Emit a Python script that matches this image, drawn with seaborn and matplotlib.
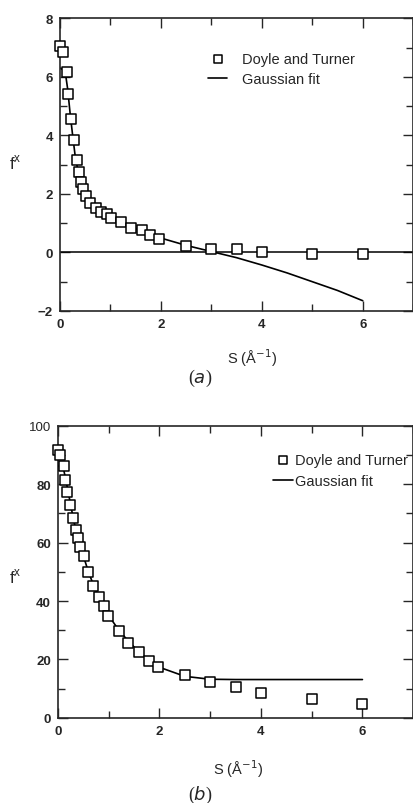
import matplotlib
matplotlib.use('Agg')
import matplotlib.pyplot as plt
import seaborn as sns
import pandas as pd
from matplotlib.ticker import MultipleLocator

# --- data ---
# (a) Doyle and Turner points
s_pts_a = [0.0, 0.05, 0.13, 0.16, 0.21, 0.28, 0.33, 0.37, 0.41, 0.46, 0.52, 0.59,
           0.72, 0.82, 0.93, 1.02, 1.21, 1.40, 1.63, 1.78, 1.97, 2.5, 3.0, 3.5,
           4.0, 5.0, 6.0]
f_pts_a = [7.05, 6.84, 6.18, 5.41, 4.57, 3.83, 3.16, 2.74, 2.39, 2.16, 1.93, 1.68,
           1.53, 1.38, 1.32, 1.16, 1.05, 0.84, 0.75, 0.59, 0.47, 0.23, 0.13, 0.11,
           0.03, -0.06, -0.06]
# (a) Gaussian fit
s_fit_a = [0.0, 0.05, 0.1, 0.15, 0.2, 0.25, 0.3, 0.35, 0.4, 0.5, 0.6, 0.7, 0.8,
           1.0, 1.2, 1.4, 1.6, 1.8, 2.0, 2.5, 3.0, 3.5, 4.0, 4.5, 5.0, 5.5, 6.0]
f_fit_a = [6.3, 6.25, 6.2, 5.6, 4.75, 4.0, 3.3, 2.85, 2.45, 1.98, 1.72, 1.54, 1.4,
           1.18, 1.02, 0.87, 0.74, 0.61, 0.49, 0.24, 0.03, -0.18, -0.43, -0.7,
           -1.0, -1.3, -1.65]

# (b) Doyle and Turner points
s_pts_b = [0.0, 0.05, 0.11, 0.14, 0.18, 0.24, 0.29, 0.36, 0.39, 0.44, 0.52, 0.59,
           0.70, 0.80, 0.90, 0.98, 1.21, 1.39, 1.60, 1.80, 1.97, 2.5, 3.0, 3.5,
           4.0, 5.0, 6.0]
f_pts_b = [91.8, 90.1, 86.3, 81.5, 77.2, 72.9, 68.4, 64.3, 61.6, 58.4, 55.5, 49.8,
           45.3, 41.5, 38.4, 34.8, 29.9, 25.5, 22.5, 19.3, 17.3, 14.5, 12.2, 10.5,
           8.6, 6.3, 4.8]
# (b) Gaussian fit
s_fit_b = [0.0, 0.05, 0.1, 0.15, 0.2, 0.25, 0.3, 0.35, 0.4, 0.5, 0.6, 0.7, 0.8,
           0.9, 1.0, 1.2, 1.4, 1.6, 1.8, 2.0, 2.5, 3.0, 3.5, 4.0, 5.0, 6.0]
f_fit_b = [86.0, 87.0, 86.0, 82.0, 77.5, 73.0, 68.5, 64.5, 61.0, 55.5, 50.0, 45.5,
           41.5, 38.0, 35.0, 30.0, 26.0, 22.5, 19.5, 17.3, 14.2, 13.2, 13.1, 13.1,
           13.1, 13.1]

sns.set_style('ticks')
plt.rcParams['font.family'] = ['Liberation Sans', 'DejaVu Sans']
plt.rcParams['axes.linewidth'] = 1.2

fig = plt.figure(figsize=(4.14, 8.04), dpi=100)
ax_a = fig.add_axes([0.145, 0.612, 0.853, 0.364])
ax_b = fig.add_axes([0.140, 0.106, 0.858, 0.363])


def draw_panel(ax, s_pts, f_pts, s_fit, f_fit):
    pts = pd.DataFrame({'s': s_pts, 'f': f_pts})
    fit = pd.DataFrame({'s': s_fit, 'f': f_fit})
    sns.lineplot(data=fit, x='s', y='f', ax=ax, color='black', lw=1.2,
                 label='Gaussian fit', sort=False, zorder=2)
    sns.scatterplot(data=pts, x='s', y='f', ax=ax, marker='s', s=44,
                    facecolor='white', edgecolor='black', linewidth=1.1,
                    label='Doyle and Turner', zorder=3, clip_on=False)
    ax.set_xlim(0, 7)
    ax.xaxis.set_major_locator(MultipleLocator(2))
    ax.xaxis.set_minor_locator(MultipleLocator(1))
    ax.tick_params(which='both', direction='in', top=True, right=True,
                   labelsize=9.5, width=1.0, pad=5)
    ax.tick_params(which='major', length=7)
    ax.tick_params(which='minor', length=5)
    for lab in ax.get_xticklabels() + ax.get_yticklabels():
        lab.set_fontweight('bold')
    ax.set_xlabel('S (Å$^{-1}$)', fontsize=10.5)
    ax.set_ylabel('f$^\\mathregular{x}$', fontsize=12, rotation=0, va='center')


# panel (a)
draw_panel(ax_a, s_pts_a, f_pts_a, s_fit_a, f_fit_a)
ax_a.axhline(0, color='black', lw=1.1, zorder=1)
ax_a.set_ylim(-2, 8)
ax_a.yaxis.set_major_locator(MultipleLocator(2))
ax_a.yaxis.set_minor_locator(MultipleLocator(1))
ax_a.xaxis.set_label_coords(0.544, -0.12)
ax_a.yaxis.set_label_coords(-0.127, 0.51)
h, l = ax_a.get_legend_handles_labels()
ax_a.legend(h[::-1], l[::-1], loc='upper left', bbox_to_anchor=(0.42, 0.885),
            frameon=False, fontsize=10.5, handlelength=1.3, handletextpad=1.0,
            labelspacing=0.4, borderpad=0, borderaxespad=0, markerscale=0.8)

# panel (b)
draw_panel(ax_b, s_pts_b, f_pts_b, s_fit_b, f_fit_b)
ax_b.set_ylim(0, 100)
ax_b.yaxis.set_major_locator(MultipleLocator(20))
ax_b.yaxis.set_minor_locator(MultipleLocator(10))
ax_b.xaxis.set_label_coords(0.508, -0.137)
ax_b.yaxis.set_label_coords(-0.121, 0.486)
h, l = ax_b.get_legend_handles_labels()
ax_b.legend(h[::-1], l[::-1], loc='upper left', bbox_to_anchor=(0.605, 0.908),
            frameon=False, fontsize=10.5, handlelength=1.4, handletextpad=0.1,
            labelspacing=0.5, borderpad=0, borderaxespad=0, markerscale=0.8)

fig.text(200 / 414, 1 - 378 / 804, '($a$)', fontsize=13, ha='center',
         va='center', family=['Liberation Serif', 'DejaVu Serif'])
fig.text(200 / 414, 1 - 795 / 804, '($b$)', fontsize=13, ha='center',
         va='center', family=['Liberation Serif', 'DejaVu Serif'])

fig.savefig('out.png', dpi=100)
